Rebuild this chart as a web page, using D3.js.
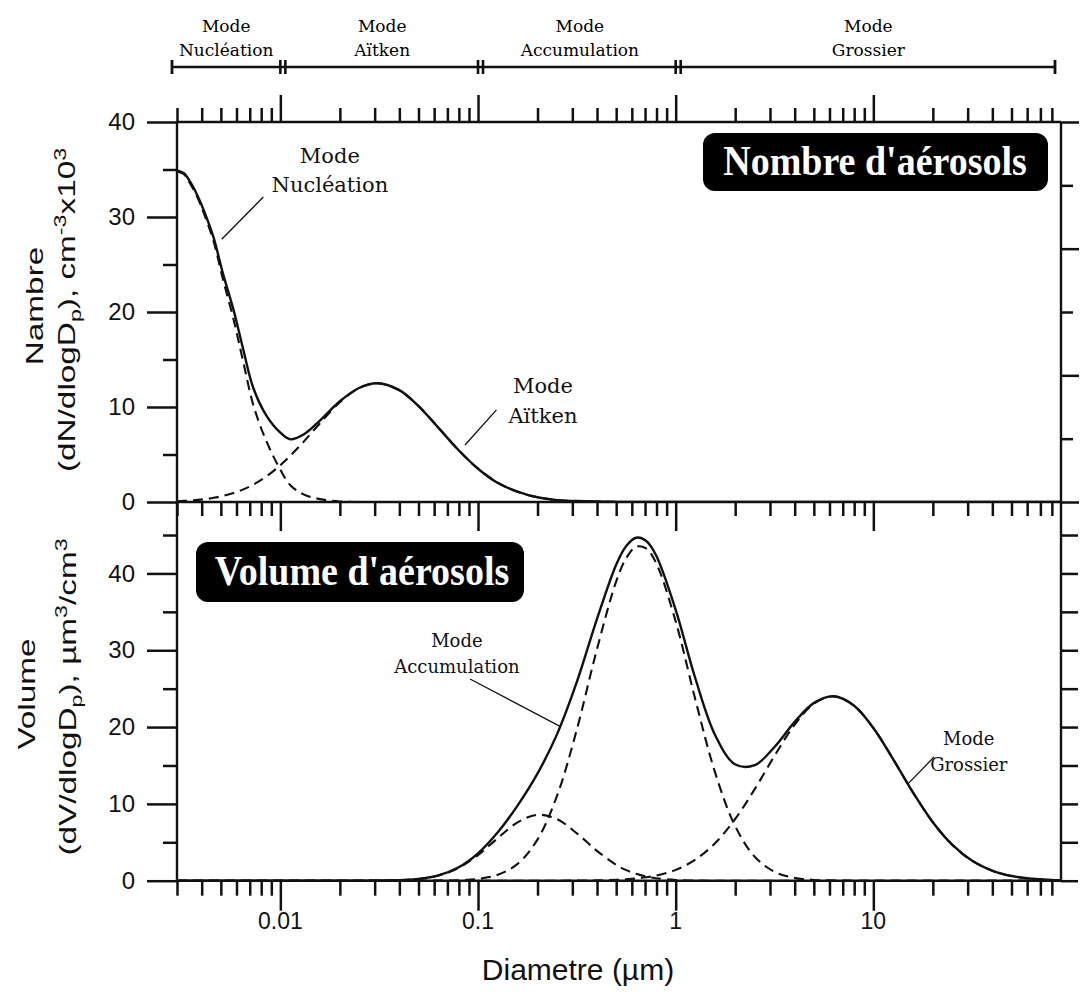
<!DOCTYPE html>
<html><head><meta charset="utf-8"><title>Aérosols</title>
<script src="https://cdn.jsdelivr.net/npm/d3@7/dist/d3.min.js"></script>
<style>html,body{margin:0;padding:0;background:#fff;}svg{display:block;}</style>
</head><body>
<svg id="chart" width="1081" height="994"></svg>
<script>
// ---------- DATA ----------
// Number distribution (upper panel), diameters in µm
const numDiam = [0.003,0.00325,0.0035,0.0038,0.0041,0.0046,0.0051,0.0058,0.0065,0.0073,0.0085,0.01,0.0112,0.0131,0.0159,0.02,0.025,0.0309,0.0398,0.05,0.0631,0.0794,0.1,0.1259,0.1585,0.1995,0.2512,0.3162,0.5,0.8,89];
const numTotal = [34.9,34.6,33.7,32.3,30.7,27.8,24.2,20.2,16.0,12.0,9.1,7.3,6.6,7.1,8.6,10.6,12.0,12.5,11.8,10.1,7.8,5.5,3.5,2.0,1.1,0.5,0.2,0.1,0,0,0];
const numNucleation = [34.8,34.5,33.5,32.1,30.4,27.4,23.6,19.2,14.7,10.2,6.4,3.4,1.8,0.8,0.3,0.05,0,0,0,0,0,0,0,0,0,0,0,0,0,0,0];
const numAitken = [0.08,0.12,0.16,0.22,0.29,0.44,0.63,0.95,1.33,1.83,2.69,3.87,4.84,6.33,8.31,10.5,11.99,12.5,11.78,10.1,7.82,5.5,3.51,2.03,1.07,0.51,0.22,0.09,0.01,0,0];

// Volume distribution (lower panel)
const volDiam = [0.003,0.0251,0.0316,0.0398,0.0501,0.0631,0.0794,0.1,0.1259,0.1585,0.1995,0.2512,0.3162,0.3981,0.5012,0.5623,0.631,0.7079,0.7943,1,1.259,1.585,1.995,2.512,3.162,3.981,5.012,6.31,7.943,10,12.59,15.85,19.95,25.12,31.62,39.81,50.12,63.1,79.43,89];
const volTotal = [0,0,0.02,0.06,0.23,0.69,1.71,3.56,6.30,9.78,13.90,19.08,25.87,33.92,41.20,43.57,44.65,44.25,42.40,35.26,26.29,18.94,15.16,15.04,17.41,20.61,23.15,24.02,22.84,19.88,15.82,11.51,7.65,4.66,2.59,1.32,0.61,0.26,0.10,0.06];
const volAitken = [0,0,0.02,0.06,0.23,0.68,1.65,3.33,5.53,7.59,8.58,8.01,6.17,3.92,2.05,1.38,0.89,0.54,0.32,0.09,0.02,0,0,0,0,0,0,0,0,0,0,0,0,0,0,0,0,0,0,0];
const volAccumulation = [0,0,0,0,0,0.01,0.06,0.23,0.77,2.19,5.32,11.07,19.69,29.96,39.04,42.01,43.48,43.27,41.42,33.76,23.52,14.03,7.16,3.12,1.16,0.37,0.10,0.02,0,0,0,0,0,0,0,0,0,0,0,0];
const volCoarse = [0,0,0,0,0,0,0,0,0,0,0,0,0.01,0.04,0.11,0.18,0.28,0.44,0.66,1.41,2.75,4.91,8.00,11.92,16.25,20.24,23.05,24.0,22.84,19.88,15.82,11.51,7.65,4.66,2.59,1.32,0.61,0.26,0.10,0.06];

// Ticks and labels
const xMajorTicks = [0.01,0.1,1,10];
const xTickLabels = ["0.01","0.1","1","10"];
const numTicks = [0,10,20,30,40];
const numMinorTicks = [5,15,25,35];
const volTicks = [0,10,20,30,40];
const volMinorTicks = [5,15,25,35,45];
const rightTopMajor = [0,2,4,6];
const rightTopMinor = [1,3,5];

// Mode bands on top
const modeNames = ["Nucléation","Aïtken","Accumulation","Grossier"];
const modeBounds = [0.00283,0.01,0.1,1,83];

// ---------- LAYOUT ----------
const svg = d3.select("#chart");
const L = 177, R = 1061, T = 122, M = 502, B = 880.7;
const x = d3.scaleLog().domain([0.003, 89]).range([L, R]);
const yN = d3.scaleLinear().domain([0, 40]).range([M, T]);
const yV = d3.scaleLinear().domain([0, 49.3]).range([B, M]);
const yR = d3.scaleLinear().domain([0, 6]).range([M, T]);
const ink = "#111";
const sans = "'Liberation Sans', Arial, sans-serif";
const serif = "'DejaVu Serif', serif";
const tserif = "'Liberation Serif', 'Times New Roman', serif";
const TW = 2.5;

const minorX = x.ticks().filter(t => !xMajorTicks.some(m => Math.abs(m - t) / m < 1e-6));

function clean(g, w, keepText) {
  g.select(".domain").remove();
  g.selectAll(".tick line").attr("stroke", ink).attr("stroke-width", w);
  if (!keepText) g.selectAll(".tick text").remove();
  return g;
}

// top axis (ticks up)
clean(svg.append("g").attr("transform", `translate(0,${T})`).call(d3.axisTop(x).tickValues(minorX).tickSize(14).tickFormat("")), TW);
clean(svg.append("g").attr("transform", `translate(0,${T})`).call(d3.axisTop(x).tickValues(xMajorTicks).tickSize(27).tickFormat("")), TW);
// middle line ticks pointing down into lower panel
clean(svg.append("g").attr("transform", `translate(0,${M})`).call(d3.axisBottom(x).tickValues(minorX).tickSize(14).tickFormat("")), TW);
clean(svg.append("g").attr("transform", `translate(0,${M})`).call(d3.axisBottom(x).tickValues(xMajorTicks).tickSize(29).tickFormat("")), TW);
// bottom axis (ticks down)
clean(svg.append("g").attr("transform", `translate(0,${B})`).call(d3.axisBottom(x).tickValues(minorX).tickSize(15).tickFormat("")), TW);
clean(svg.append("g").attr("transform", `translate(0,${B})`).call(d3.axisBottom(x).tickValues(xMajorTicks).tickSize(30).tickFormat("")), TW);

// x labels
svg.append("g").selectAll("text").data(xMajorTicks).join("text")
  .attr("x", d => x(d)).attr("y", 929)
  .attr("text-anchor", "middle").attr("font-family", sans).attr("font-size", 23).attr("fill", ink)
  .text((d, i) => xTickLabels[i]);

// left axes
function leftAxis(scale, majors, minors) {
  clean(svg.append("g").attr("transform", `translate(${L},0)`).call(d3.axisLeft(scale).tickValues(minors).tickSize(14).tickFormat("")), TW);
  const g = svg.append("g").attr("transform", `translate(${L},0)`).call(d3.axisLeft(scale).tickValues(majors).tickSize(30).tickPadding(12).tickFormat(d3.format("d")));
  clean(g, TW, true);
  g.selectAll(".tick text").attr("font-family", sans).attr("font-size", 24).attr("fill", ink);
}
leftAxis(yN, numTicks, numMinorTicks);
leftAxis(yV, volTicks, volMinorTicks);

// right axes (outward, no labels)
clean(svg.append("g").attr("transform", `translate(${R},0)`).call(d3.axisRight(yR).tickValues(rightTopMajor).tickSize(18).tickFormat("")), TW);
clean(svg.append("g").attr("transform", `translate(${R},0)`).call(d3.axisRight(yR).tickValues(rightTopMinor).tickSize(12).tickFormat("")), TW);
clean(svg.append("g").attr("transform", `translate(${R},0)`).call(d3.axisRight(yV).tickValues(volMinorTicks.concat(volTicks)).tickSize(17).tickFormat("")), TW);

// frame
const frame = svg.append("g").attr("stroke", ink).attr("stroke-width", 2.4).attr("fill", "none");
[[L, T, R, T], [L, M, R, M], [L, B, R, B], [L, T, L, B], [R, T, R, B]].forEach(s =>
  frame.append("line").attr("x1", s[0]).attr("y1", s[1]).attr("x2", s[2]).attr("y2", s[3]));

// clip
svg.append("clipPath").attr("id", "clipN").append("rect").attr("x", L).attr("y", T).attr("width", R - L).attr("height", M - T);
svg.append("clipPath").attr("id", "clipV").append("rect").attr("x", L).attr("y", M).attr("width", R - L).attr("height", B - M);

const pairs = (xs, ys) => xs.map((d, i) => [d, ys[i]]);
const lineN = d3.line().x(d => x(d[0])).y(d => yN(d[1])).curve(d3.curveCatmullRom.alpha(0.5));
const lineV = d3.line().x(d => x(d[0])).y(d => yV(d[1])).curve(d3.curveCatmullRom.alpha(0.5));

const gN = svg.append("g").attr("clip-path", "url(#clipN)").attr("fill", "none").attr("stroke", ink);
[numNucleation, numAitken].forEach(s => gN.append("path").attr("d", lineN(pairs(numDiam, s))).attr("stroke-width", 2.1).attr("stroke-dasharray", "10,6"));
gN.append("path").attr("d", lineN(pairs(numDiam, numTotal))).attr("stroke-width", 2.4);

const gV = svg.append("g").attr("clip-path", "url(#clipV)").attr("fill", "none").attr("stroke", ink);
[volAitken, volAccumulation, volCoarse].forEach(s => gV.append("path").attr("d", lineV(pairs(volDiam, s))).attr("stroke-width", 2.1).attr("stroke-dasharray", "10,6"));
gV.append("path").attr("d", lineV(pairs(volDiam, volTotal))).attr("stroke-width", 2.4);

// ---------- Mode bands on top ----------
const barY = 67;
const band = svg.append("g").attr("stroke", ink).attr("fill", "none");
band.append("line").attr("x1", x(modeBounds[0])).attr("x2", x(modeBounds[4])).attr("y1", barY).attr("y2", barY).attr("stroke-width", 2.6);
band.append("line").attr("x1", x(modeBounds[0])).attr("x2", x(modeBounds[0])).attr("y1", barY - 7).attr("y2", barY + 7).attr("stroke-width", 2.8);
band.append("line").attr("x1", x(modeBounds[4])).attr("x2", x(modeBounds[4])).attr("y1", barY - 7).attr("y2", barY + 7).attr("stroke-width", 2.8);
modeBounds.slice(1, 4).forEach(b => {
  [0, 5].forEach(o => band.append("line").attr("x1", x(b) + o).attr("x2", x(b) + o).attr("y1", barY - 7).attr("y2", barY + 7).attr("stroke-width", 2.6));
});
modeNames.forEach((n, i) => {
  const cx = (x(modeBounds[i]) + x(modeBounds[i + 1])) / 2 + (i > 0 ? 3 : 0);
  const t = svg.append("text").attr("text-anchor", "middle").attr("font-family", serif).attr("font-size", 17).attr("fill", "#000");
  t.append("tspan").attr("x", cx).attr("y", 32).text("Mode");
  t.append("tspan").attr("x", cx).attr("y", 56).text(n);
});

// ---------- Annotations ----------
function annot(ys, D, v1, v2, name, fs) {
  const t = svg.append("text").attr("text-anchor", "middle").attr("font-family", serif).attr("font-size", fs).attr("fill", "#111");
  t.append("tspan").attr("x", x(D)).attr("y", ys(v1)).text("Mode");
  t.append("tspan").attr("x", x(D)).attr("y", ys(v2)).text(name);
}
function leader(ys, d1, v1, d2, v2) {
  svg.append("line").attr("x1", x(d1)).attr("y1", ys(v1)).attr("x2", x(d2)).attr("y2", ys(v2)).attr("stroke", ink).attr("stroke-width", 1.3);
}
annot(yN, 0.0178, 35.7, 32.6, "Nucléation", 21);
leader(yN, 0.0082, 32.1, 0.00505, 27.65);
annot(yN, 0.213, 11.5, 8.35, "Aïtken", 21);
leader(yN, 0.124, 9.7, 0.0859, 6.0);
annot(yV, 0.0782, 30.43, 27.04, "Accumulation", 18);
leader(yV, 0.0911, 26.26, 0.26, 20.1);
annot(yV, 30.4, 17.67, 14.29, "Grossier", 18);
leader(yV, 20.27, 16.1, 14.97, 12.6);

// ---------- Black title boxes ----------
function box(x0, y0, w, h, label, tx, ty) {
  svg.append("rect").attr("x", x0).attr("y", y0).attr("width", w).attr("height", h).attr("rx", 12).attr("fill", "#000");
  svg.append("text").attr("transform", `translate(${tx},${ty}) scale(1,1.1)`).attr("text-anchor", "middle")
    .attr("font-family", tserif).attr("font-weight", "bold").attr("font-size", 38).attr("fill", "#fff").text(label);
}
box(703, 133, 345, 58, "Nombre d'aérosols", 875, 175);
box(196, 542, 328, 60, "Volume d'aérosols", 362, 585);

// ---------- Axis titles ----------
function vtitle(bx, cy, parts) {
  const t = svg.append("text").attr("transform", `translate(${bx},${cy}) rotate(-90) scale(1.45,1)`)
    .attr("text-anchor", "middle").attr("font-family", sans).attr("font-size", 23).attr("fill", ink);
  parts.forEach(p => t.append("tspan").attr("dy", p[1] || 0).attr("font-size", p[2] || 23).text(p[0]));
}
vtitle(43, 306, [["Nambre"]]);
vtitle(75, 310, [["(dN/dlogD"], ["p", 6, 16], ["), cm", -6], ["-3", -9, 16], ["x10", 9], ["3", -9, 16]]);
vtitle(35, 694, [["Volume"]]);
vtitle(76, 697, [["(dV/dlogD"], ["p", 6, 16], ["), µm", -6], ["3", -9, 16], ["/cm", 9], ["3", -9, 16]]);

svg.append("text").attr("x", 578).attr("y", 980).attr("text-anchor", "middle")
  .attr("font-family", sans).attr("font-size", 30).attr("fill", ink).text("Diametre (µm)");
</script>
</body></html>
